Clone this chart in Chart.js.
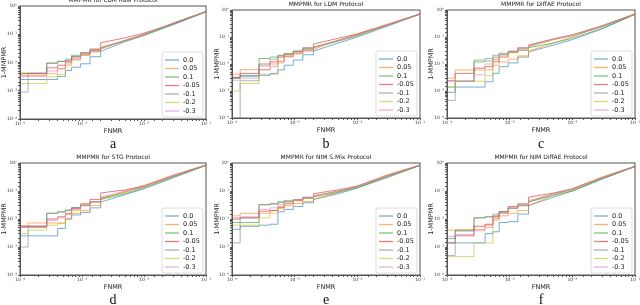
<!DOCTYPE html>
<html>
<head>
<meta charset="utf-8">
<script src="https://cdn.jsdelivr.net/npm/chart.js@4"></script>
<style>
  body { margin: 0; background: #fff; width: 640px; height: 305px; overflow: hidden; position: relative; }
  canvas { position: absolute; }
</style>
</head>
<body>
<script>
// series labels / colours (tab10-like, drawn semi transparent)
const seriesLabels = ["0.0", "0.05", "0.1", "-0.05", "-0.1", "-0.2", "-0.3"];
const seriesColors = [
    "rgba(31,119,180,0.6)", "rgba(255,127,14,0.6)", "rgba(44,160,44,0.6)",
    "rgba(214,39,40,0.6)", "rgba(127,127,127,0.6)", "rgba(188,189,34,0.6)",
    "rgba(227,119,194,0.6)",
];

// FNMR thresholds: stepped part, then the nearly smooth tail
const stepFnmr = [1e-4, 1.35e-4, 2.7e-4, 4.05e-4, 5.4e-4, 6.8e-4, 9.5e-4, 1.35e-3, 2e-3];
const tailFnmr = [5e-3, 1e-2, 3e-2, 1e-1];

const decadeTicks = [1e-4, 1e-3, 1e-2, 1e-1, 1];
const decadeLabels = ["10\u207B\u2074", "10\u207B\u00B3", "10\u207B\u00B2", "10\u207B\u00B9", "10\u2070"];

const panelTitles = [
    "MMPMR for LDM Raw Protocol", "MMPMR for LDM Protocol", "MMPMR for DiffAE Protocol",
    "MMPMR for STG Protocol", "MMPMR for NIM S.Mix Protocol", "MMPMR for NIM DiffAE Protocol",
];
const panelLetters = ["a", "b", "c", "d", "e", "f"];

// 1-MMPMR per series (9 stepped values + 4 tail values)
const ldmRaw = [
    [0.0025, 0.0025, 0.0025, 0.0032, 0.0052, 0.0068, 0.009, 0.016, 0.025, 0.055, 0.09, 0.22, 0.62],
    [0.0035, 0.0035, 0.0040, 0.0060, 0.0080, 0.014, 0.018, 0.024, 0.030, 0.06, 0.095, 0.25, 0.64],
    [0.0042, 0.0042, 0.0095, 0.011, 0.013, 0.018, 0.022, 0.028, 0.033, 0.06, 0.095, 0.23, 0.62],
    [0.0040, 0.0040, 0.0065, 0.008, 0.011, 0.016, 0.020, 0.030, 0.050, 0.075, 0.11, 0.24, 0.63],
    [0.0009, 0.0042, 0.0095, 0.011, 0.012, 0.016, 0.022, 0.027, 0.032, 0.06, 0.1, 0.25, 0.64],
    [0.0018, 0.0018, 0.0031, 0.0038, 0.009, 0.012, 0.018, 0.024, 0.032, 0.06, 0.10, 0.25, 0.64],
    [0.0032, 0.0032, 0.0050, 0.0060, 0.010, 0.013, 0.020, 0.026, 0.034, 0.062, 0.1, 0.25, 0.64],
];
const ldm = [
    [0.0030, 0.0038, 0.0038, 0.0045, 0.0060, 0.0090, 0.014, 0.022, 0.030, 0.06, 0.10, 0.25, 0.70],
    [0.0042, 0.0062, 0.0062, 0.010, 0.013, 0.019, 0.024, 0.030, 0.035, 0.075, 0.13, 0.30, 0.72],
    [0.0030, 0.0035, 0.016, 0.018, 0.021, 0.024, 0.030, 0.036, 0.042, 0.07, 0.11, 0.27, 0.70],
    [0.0032, 0.0045, 0.010, 0.012, 0.018, 0.022, 0.028, 0.040, 0.055, 0.09, 0.13, 0.28, 0.71],
    [0.00001, 0.0024, 0.0085, 0.015, 0.020, 0.024, 0.030, 0.036, 0.042, 0.075, 0.12, 0.28, 0.71],
    [0.0010, 0.0019, 0.0042, 0.0042, 0.011, 0.020, 0.026, 0.033, 0.040, 0.075, 0.12, 0.28, 0.72],
    [0.0025, 0.0030, 0.0060, 0.0080, 0.012, 0.018, 0.024, 0.032, 0.040, 0.075, 0.12, 0.28, 0.72],
];
const diffae = [
    [0.0009, 0.0014, 0.0014, 0.0022, 0.0045, 0.008, 0.011, 0.018, 0.028, 0.05, 0.08, 0.20, 0.70],
    [0.0030, 0.0060, 0.0060, 0.0060, 0.009, 0.012, 0.015, 0.020, 0.030, 0.06, 0.10, 0.26, 0.72],
    [0.0014, 0.0023, 0.012, 0.013, 0.018, 0.023, 0.027, 0.032, 0.040, 0.06, 0.09, 0.21, 0.69],
    [0.0024, 0.0045, 0.0070, 0.0080, 0.012, 0.018, 0.028, 0.040, 0.050, 0.085, 0.12, 0.25, 0.70],
    [0.00045, 0.0023, 0.014, 0.016, 0.021, 0.025, 0.030, 0.036, 0.045, 0.08, 0.11, 0.24, 0.70],
    [0.0014, 0.0023, 0.0023, 0.0037, 0.014, 0.020, 0.026, 0.033, 0.042, 0.08, 0.12, 0.27, 0.72],
    [0.0023, 0.0023, 0.0040, 0.0100, 0.015, 0.022, 0.030, 0.038, 0.050, 0.085, 0.12, 0.26, 0.71],
];
const stg = [
    [0.0025, 0.0025, 0.0025, 0.0046, 0.010, 0.014, 0.017, 0.025, 0.040, 0.075, 0.12, 0.30, 0.82],
    [0.0050, 0.0072, 0.0072, 0.0072, 0.010, 0.016, 0.020, 0.030, 0.050, 0.10, 0.16, 0.38, 0.85],
    [0.0055, 0.0055, 0.016, 0.018, 0.021, 0.025, 0.030, 0.040, 0.050, 0.08, 0.13, 0.32, 0.82],
    [0.0056, 0.0056, 0.010, 0.012, 0.016, 0.024, 0.035, 0.050, 0.085, 0.11, 0.15, 0.35, 0.84],
    [0.0010, 0.0050, 0.016, 0.018, 0.020, 0.026, 0.032, 0.042, 0.055, 0.09, 0.14, 0.34, 0.84],
    [0.0030, 0.0040, 0.0060, 0.0070, 0.014, 0.020, 0.030, 0.040, 0.055, 0.09, 0.14, 0.35, 0.84],
    [0.0050, 0.0050, 0.0090, 0.011, 0.015, 0.022, 0.030, 0.042, 0.060, 0.10, 0.15, 0.36, 0.85],
];
const nimSmix = [
    [0.0043, 0.0055, 0.0060, 0.0065, 0.018, 0.022, 0.028, 0.038, 0.050, 0.08, 0.13, 0.32, 0.82],
    [0.013, 0.016, 0.016, 0.020, 0.024, 0.030, 0.036, 0.042, 0.050, 0.09, 0.15, 0.38, 0.84],
    [0.0075, 0.0075, 0.032, 0.034, 0.038, 0.042, 0.048, 0.055, 0.062, 0.09, 0.13, 0.30, 0.82],
    [0.010, 0.011, 0.019, 0.020, 0.026, 0.035, 0.045, 0.060, 0.080, 0.11, 0.15, 0.35, 0.83],
    [0.0014, 0.0110, 0.033, 0.036, 0.042, 0.046, 0.050, 0.058, 0.065, 0.10, 0.14, 0.34, 0.83],
    [0.0060, 0.0060, 0.011, 0.016, 0.028, 0.036, 0.046, 0.055, 0.065, 0.10, 0.15, 0.36, 0.84],
    [0.0110, 0.012, 0.022, 0.025, 0.032, 0.040, 0.048, 0.058, 0.068, 0.10, 0.15, 0.36, 0.84],
];
const nimDiffae = [
    [0.0014, 0.0014, 0.0014, 0.0030, 0.0035, 0.0075, 0.0080, 0.015, 0.030, 0.06, 0.10, 0.27, 0.75],
    [0.0040, 0.0042, 0.0042, 0.0060, 0.010, 0.013, 0.016, 0.020, 0.030, 0.07, 0.12, 0.32, 0.77],
    [0.0020, 0.0038, 0.011, 0.012, 0.013, 0.018, 0.024, 0.030, 0.040, 0.07, 0.10, 0.27, 0.74],
    [0.0014, 0.0025, 0.0055, 0.0065, 0.012, 0.018, 0.028, 0.035, 0.060, 0.085, 0.12, 0.30, 0.76],
    [0.0005, 0.0038, 0.011, 0.012, 0.015, 0.018, 0.025, 0.030, 0.040, 0.08, 0.11, 0.29, 0.75],
    [0.00046, 0.00046, 0.0014, 0.0014, 0.0090, 0.016, 0.024, 0.032, 0.042, 0.08, 0.11, 0.30, 0.76],
    [0.0024, 0.0028, 0.0038, 0.0050, 0.011, 0.016, 0.024, 0.032, 0.045, 0.08, 0.12, 0.30, 0.76],
];
const panelData = [ldmRaw, ldm, diffae, stg, nimSmix, nimDiffae];

// layout of the six panels (pixels in the page)
const panels = [
    { cellL: 0, cellR: 213, rowT: 0, rowB: 150, plotL: 20, plotR: 206, plotT: 6, plotB: 119, letterBase: 148 },
    { cellL: 213, cellR: 427, rowT: 0, rowB: 150, plotL: 232, plotR: 420, plotT: 10, plotB: 118, letterBase: 148 },
    { cellL: 427, cellR: 640, rowT: 0, rowB: 150, plotL: 447, plotR: 635, plotT: 10, plotB: 118, letterBase: 148 },
    { cellL: 0, cellR: 213, rowT: 150, rowB: 305, plotL: 20, plotR: 206, plotT: 163, plotB: 275, letterBase: 304 },
    { cellL: 213, cellR: 427, rowT: 150, rowB: 305, plotL: 232, plotR: 420, plotT: 163, plotB: 275, letterBase: 304 },
    { cellL: 427, cellR: 640, rowT: 150, rowB: 305, plotL: 447, plotR: 635, plotT: 163, plotB: 275, letterBase: 304 },
];
const xAxisHeight = 16;

const framePlugin = {
    id: "frame",
    afterDatasetsDraw(chart) {
        const ctx = chart.ctx;
        const a = chart.chartArea;
        const o = chart.options.plugins.frame;
        ctx.save();
        ctx.strokeStyle = "#555";
        ctx.lineWidth = 1;
        ctx.strokeRect(a.left, a.top, a.right - a.left, a.bottom - a.top);

        // title
        ctx.fillStyle = "#222";
        ctx.font = '6px "DejaVu Sans"';
        ctx.textAlign = "center";
        ctx.textBaseline = "middle";
        ctx.fillText(o.title, (a.left + a.right) / 2, a.top - 5.5);

        // sub-figure letter
        ctx.fillStyle = "#111";
        ctx.font = '14px "Liberation Serif"';
        ctx.textBaseline = "alphabetic";
        ctx.fillText(o.letter, (a.left + a.right) / 2, o.letterY);

        // legend box, lower right
        const w = 41, h = 65;
        const x = a.right - 3 - w, y = a.bottom - 2 - h;
        ctx.fillStyle = "rgba(255,255,255,0.85)";
        ctx.strokeStyle = "#d4d4d4";
        ctx.lineWidth = 0.8;
        ctx.beginPath();
        ctx.roundRect(x, y, w, h, 2);
        ctx.fill();
        ctx.stroke();
        ctx.font = '6.5px "DejaVu Sans"';
        ctx.textAlign = "left";
        ctx.textBaseline = "middle";
        seriesLabels.forEach((lab, k) => {
            const yy = y + 8 + k * 8.5;
            ctx.strokeStyle = seriesColors[k];
            ctx.lineWidth = 1.3;
            ctx.beginPath();
            ctx.moveTo(x + 3, yy);
            ctx.lineTo(x + 17, yy);
            ctx.stroke();
            ctx.fillStyle = "#222";
            ctx.fillText(lab, x + 21, yy);
        });
        ctx.restore();
    },
};

function decadeLabel(value) {
    const i = decadeTicks.findIndex((t) => Math.abs(Math.log10(t) - Math.log10(value)) < 1e-6);
    return i >= 0 ? decadeLabels[i] : "";
}

function buildDatasets(rows) {
    const sets = [];
    const n = stepFnmr.length;
    rows.forEach((vals, k) => {
        const step = stepFnmr.map((x, i) => ({ x, y: vals[i] }));
        const tail = [{ x: stepFnmr[n - 1], y: vals[n - 1] }]
            .concat(tailFnmr.map((x, i) => ({ x, y: vals[n + i] })));
        const common = {
            borderColor: seriesColors[k],
            borderWidth: 1,
            pointRadius: 0,
            fill: false,
            order: 20 - k,
        };
        sets.push(Object.assign({ label: seriesLabels[k], data: step, stepped: "before" }, common));
        sets.push(Object.assign({ label: seriesLabels[k] + " tail", data: tail, tension: 0 }, common));
    });
    return sets;
}

panels.forEach((p, idx) => {
    const canvas = document.createElement("canvas");
    const width = p.cellR - p.cellL;
    const height = p.rowB - p.rowT;
    canvas.width = width;
    canvas.height = height;
    canvas.style.left = p.cellL + "px";
    canvas.style.top = p.rowT + "px";
    canvas.style.width = width + "px";
    canvas.style.height = height + "px";
    document.body.appendChild(canvas);

    const tickFont = { family: "DejaVu Sans", size: 4.5 };
    new Chart(canvas.getContext("2d"), {
        type: "line",
        data: { datasets: buildDatasets(panelData[idx]) },
        plugins: [framePlugin],
        options: {
            responsive: false,
            animation: false,
            events: [],
            layout: {
                padding: {
                    left: 0,
                    top: p.plotT - p.rowT,
                    right: p.cellR - p.plotR,
                    bottom: p.rowB - p.plotB - xAxisHeight,
                },
            },
            plugins: {
                legend: { display: false },
                tooltip: { enabled: false },
                frame: { title: panelTitles[idx], letter: panelLetters[idx], letterY: p.letterBase - p.rowT },
            },
            scales: {
                x: {
                    type: "logarithmic",
                    min: 1e-4,
                    max: 1e-1,
                    border: { color: "#555" },
                    grid: { drawOnChartArea: false, drawTicks: true, tickLength: 2, color: "#555" },
                    ticks: {
                        autoSkip: false, maxRotation: 0, padding: 0, font: tickFont, color: "#333",
                        callback: (v) => decadeLabel(v),
                    },
                    title: { display: true, text: "FNMR", font: { family: "DejaVu Sans", size: 6.5 }, color: "#222", padding: 0 },
                    afterFit(scale) {
                        scale.height = xAxisHeight;
                        scale.paddingLeft = 0;
                        scale.paddingRight = 0;
                    },
                },
                y: {
                    type: "logarithmic",
                    min: 1e-4,
                    max: 1,
                    border: { color: "#555" },
                    grid: { drawOnChartArea: false, drawTicks: true, tickLength: 2, color: "#555" },
                    ticks: {
                        autoSkip: false, padding: 1, font: tickFont, color: "#333",
                        callback: (v) => decadeLabel(v),
                    },
                    title: { display: true, text: "1-MMPMR", font: { family: "DejaVu Sans", size: 6.5 }, color: "#222", padding: 0 },
                    afterFit(scale) {
                        scale.width = p.plotL - p.cellL;
                        scale.paddingTop = 0;
                        scale.paddingBottom = 0;
                    },
                },
            },
        },
    });
});
</script>
</body>
</html>
